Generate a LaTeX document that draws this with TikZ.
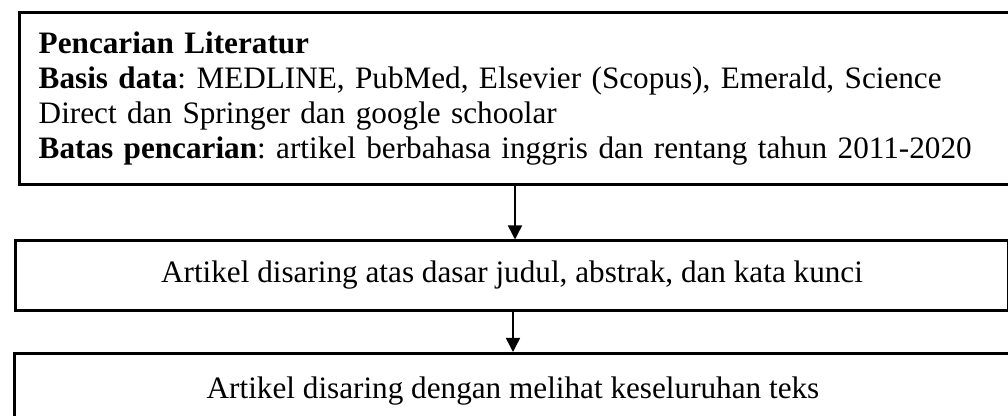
\documentclass[tikz,border=0pt]{standalone}
\usepackage{fontspec}
\setmainfont{Liberation Serif}
\usetikzlibrary{arrows.meta}
\frenchspacing
\tikzset{
  boxnode/.style={draw=black, line width=2.25pt, rectangle, inner sep=0pt,
    font=\fontsize{23.4}{26.25}\selectfont},
  flow/.style={draw=black, line width=1.1pt,
    -{Triangle[width=10.5pt,length=10.5pt]}}
}
\begin{document}
\begin{tikzpicture}[x=0.75pt,y=-0.75pt]
\clip (0,0) rectangle (1008,416);
\useasboundingbox (0,0) rectangle (1008,416);
% box 1
\node[boxnode, anchor=north west, minimum width=994.5*0.75pt, minimum height=172*0.75pt,
  inner xsep=19*0.75pt, text width=955*0.75pt, align=left] (b1) at (17.5,11.5)
  {\strut\textbf{Pencarian Literatur}\\
   \strut\textbf{Basis data}: MEDLINE, PubMed, Elsevier (Scopus), Emerald, Science\\
   \strut Direct dan Springer dan google schoolar\\
   \strut\textbf{Batas pencarian}: artikel berbahasa inggris dan rentang tahun 2011-2020};
% box 2
\node[boxnode, minimum width=993*0.75pt, minimum height=69.5*0.75pt] (b2) at (512,275.75)
  {\strut Artikel disaring atas dasar judul, abstrak, dan kata kunci};
% box 3
\node[boxnode, minimum width=998*0.75pt, minimum height=77*0.75pt] (b3) at (513,392)
  {\strut Artikel disaring dengan melihat keseluruhan teks};
% arrows
\coordinate (a1) at (515,0);
\coordinate (a2) at (513,0);
\draw[flow] (b1.south -| a1) -- (b2.north -| a1);
\draw[flow] (b2.south -| a2) -- (b3.north -| a2);
\end{tikzpicture}
\end{document}
